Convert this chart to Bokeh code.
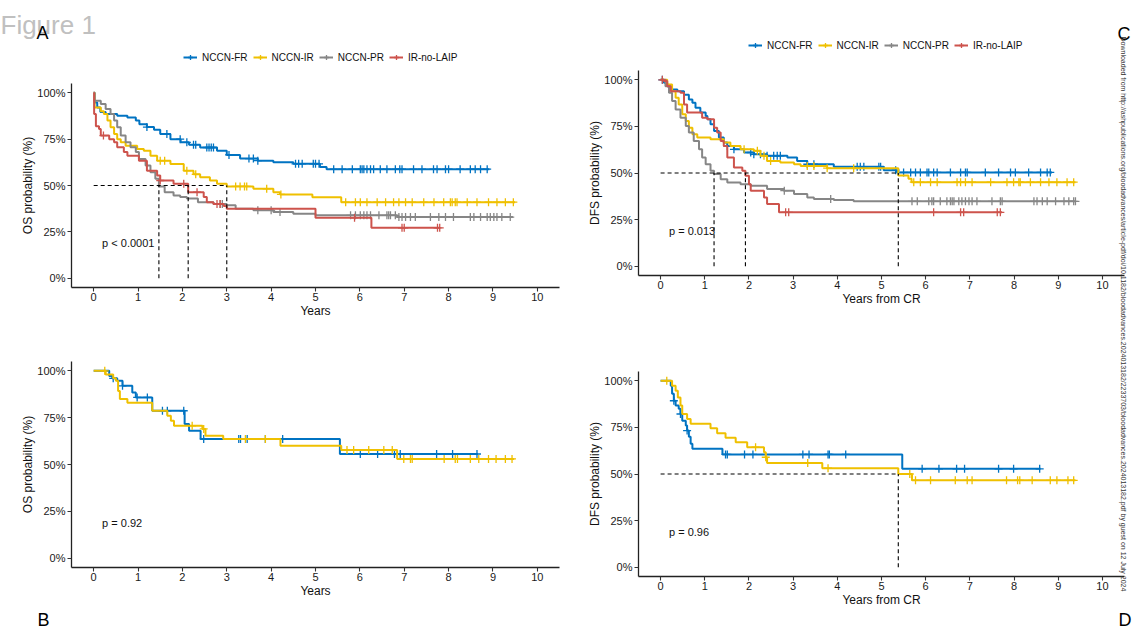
import numpy as np
from bokeh.plotting import figure
from bokeh.models import (Range1d, FixedTicker, Legend, LegendItem, Label,
                          NumeralTickFormatter, LinearAxis)
from bokeh.embed import file_html
from bokeh.resources import INLINE

# ---------------- data ----------------
groups = ["NCCN-FR", "NCCN-IR", "NCCN-PR", "IR-no-LAIP"]
colors = ["#0073C2", "#EFC000", "#868686", "#CD534C"]
x_ticks = [0, 1, 2, 3, 4, 5, 6, 7, 8, 9, 10]
y_ticks = [0, 0.25, 0.5, 0.75, 1]
y_tick_labels = ["0%", "25%", "50%", "75%", "100%"]

# Panel A: OS, all groups
a_fr_time = [0, 0.02, 0.08, 0.15, 0.27, 0.53, 0.76, 0.95, 1.03, 1.2, 1.36, 1.5, 1.73, 1.96, 2.15, 2.4, 2.78, 3.0, 3.3, 3.7, 4.05, 4.5, 5.1, 5.25]
a_fr_surv = [1.0, 0.948, 0.92, 0.896, 0.885, 0.876, 0.867, 0.85, 0.83, 0.815, 0.8, 0.778, 0.75, 0.733, 0.72, 0.705, 0.687, 0.665, 0.645, 0.634, 0.625, 0.617, 0.6, 0.588]
a_fr_end = 8.92
a_fr_cens = [1.2, 1.65, 1.95, 2.1, 2.25, 2.3, 2.55, 2.6, 2.65, 2.7, 3.05, 3.5, 3.6, 3.7, 4.55, 4.62, 4.7, 4.95, 5.0, 5.08, 5.41, 5.6, 5.83, 6.01, 6.05, 6.09, 6.16, 6.24, 6.31, 6.46, 6.61, 6.8, 6.9, 6.95, 7.21, 7.4, 7.66, 7.74, 7.93, 8.0, 8.26, 8.49, 8.6, 8.72, 8.87]

a_ir_time = [0, 0.02, 0.16, 0.23, 0.31, 0.38, 0.46, 0.53, 0.61, 0.72, 0.98, 1.13, 1.28, 1.43, 1.73, 2.03, 2.25, 2.4, 2.62, 2.78, 3.0, 3.6, 4.05, 4.2, 4.93, 5.58]
a_ir_surv = [1.0, 0.92, 0.9, 0.885, 0.85, 0.814, 0.778, 0.75, 0.733, 0.715, 0.697, 0.688, 0.66, 0.634, 0.616, 0.58, 0.56, 0.545, 0.527, 0.51, 0.495, 0.482, 0.464, 0.452, 0.437, 0.41]
a_ir_end = 9.5
a_ir_cens = [1.5, 1.6, 2.1, 2.3, 3.2, 3.3, 3.4, 3.45, 3.9, 4.22, 5.68, 5.9, 6.01, 6.16, 6.39, 6.58, 6.76, 6.88, 7.03, 7.18, 7.44, 7.67, 7.89, 8.04, 8.08, 8.15, 8.19, 8.42, 8.64, 8.9, 9.09, 9.28, 9.46]

a_pr_time = [0, 0.02, 0.16, 0.27, 0.38, 0.46, 0.53, 0.61, 0.72, 0.83, 0.95, 1.02, 1.17, 1.28, 1.39, 1.47, 1.6, 1.8, 1.95, 2.1, 2.35, 2.7, 3.0, 3.2, 3.6, 4.05, 4.5, 5.0, 6.84]
a_pr_surv = [1.0, 0.957, 0.94, 0.912, 0.885, 0.85, 0.814, 0.769, 0.733, 0.706, 0.68, 0.643, 0.608, 0.572, 0.536, 0.495, 0.464, 0.446, 0.4375, 0.43, 0.41, 0.4, 0.393, 0.375, 0.366, 0.357, 0.348, 0.339, 0.33]
a_pr_end = 9.45
a_pr_cens = [2.85, 2.9, 3.7, 4.0, 4.2, 5.79, 5.9, 6.01, 6.09, 6.16, 6.24, 6.43, 6.61, 6.65, 6.69, 6.8, 6.88, 6.95, 7.03, 7.14, 7.25, 7.59, 7.78, 7.93, 8.11, 8.49, 8.57, 8.72, 8.87, 8.94, 9.02, 9.09, 9.2, 9.39]

a_laip_time = [0, 0.01, 0.05, 0.12, 0.16, 0.35, 0.46, 0.53, 0.68, 0.76, 1.02, 1.2, 1.43, 1.5, 1.8, 2.13, 2.48, 2.55, 2.7, 2.93, 3.0, 5.0, 6.26]
a_laip_surv = [1.0, 0.885, 0.82, 0.805, 0.769, 0.75, 0.733, 0.706, 0.68, 0.66, 0.634, 0.58, 0.554, 0.527, 0.51, 0.464, 0.4375, 0.41, 0.4, 0.39, 0.375, 0.326, 0.272]
a_laip_end = 7.8
a_laip_cens = [0.22, 1.5, 2.03, 2.33, 2.78, 2.85, 5.88, 6.95, 7.0, 7.75, 7.8]

# Panel C: DFS, all groups
c_fr_time = [0, 0.075, 0.15, 0.23, 0.38, 0.53, 0.64, 0.72, 0.79, 0.9, 1.02, 1.06, 1.13, 1.21, 1.32, 1.43, 1.51, 1.66, 1.89, 2.11, 2.41, 2.87, 3.09, 3.32, 3.92, 5.05, 5.35]
c_fr_surv = [1.0, 0.984, 0.966, 0.948, 0.939, 0.92, 0.895, 0.877, 0.85, 0.824, 0.806, 0.788, 0.761, 0.725, 0.69, 0.663, 0.645, 0.627, 0.61, 0.6, 0.592, 0.583, 0.565, 0.547, 0.533, 0.515, 0.503]
c_fr_end = 8.86
c_fr_cens = [0.04, 1.51, 1.66, 2.04, 2.11, 2.26, 2.41, 2.56, 2.64, 2.71, 3.32, 3.47, 4.45, 4.52, 4.6, 4.94, 4.98, 5.32, 5.5, 5.66, 5.77, 5.88, 6.03, 6.07, 6.18, 6.26, 6.56, 6.79, 6.9, 6.94, 7.35, 7.65, 7.92, 8.03, 8.33, 8.6, 8.75, 8.82]

c_ir_time = [0, 0.15, 0.26, 0.34, 0.41, 0.49, 0.57, 0.64, 0.72, 0.83, 1.13, 1.43, 1.58, 1.81, 2.11, 2.26, 2.41, 2.71, 3.02, 3.17, 3.77, 5.38, 5.61, 5.68]
c_ir_surv = [1.0, 0.975, 0.939, 0.904, 0.868, 0.815, 0.779, 0.743, 0.708, 0.69, 0.681, 0.663, 0.645, 0.627, 0.619, 0.592, 0.565, 0.556, 0.547, 0.538, 0.526, 0.487, 0.469, 0.451]
c_ir_end = 9.39
c_ir_cens = [1.89, 2.19, 2.34, 2.49, 3.32, 3.47, 3.77, 4.37, 5.73, 5.88, 6.11, 6.26, 6.71, 6.79, 6.9, 7.05, 7.47, 7.84, 7.99, 8.11, 8.14, 8.37, 8.6, 8.79, 8.97, 9.2, 9.35]

c_pr_time = [0, 0.11, 0.19, 0.26, 0.34, 0.45, 0.57, 0.64, 0.75, 0.87, 0.94, 1.02, 1.13, 1.21, 1.36, 1.51, 1.81, 2.04, 2.41, 2.79, 3.02, 3.32, 3.47, 3.92, 4.37]
c_pr_surv = [1.0, 0.966, 0.93, 0.886, 0.841, 0.797, 0.752, 0.717, 0.672, 0.627, 0.583, 0.547, 0.512, 0.494, 0.467, 0.449, 0.44, 0.431, 0.414, 0.405, 0.387, 0.369, 0.36, 0.355, 0.348]
c_pr_end = 9.4
c_pr_cens = [2.8, 3.85, 5.69, 5.81, 6.07, 6.14, 6.18, 6.33, 6.48, 6.56, 6.6, 6.64, 6.75, 6.82, 6.9, 6.98, 7.05, 7.16, 7.5, 7.69, 7.73, 8.45, 8.52, 8.64, 8.75, 8.94, 9.13, 9.24, 9.35, 9.39]

c_laip_time = [0, 0.075, 0.15, 0.23, 0.45, 0.53, 0.6, 0.94, 1.06, 1.21, 1.28, 1.36, 1.43, 1.51, 1.66, 1.85, 1.92, 2.0, 2.04, 2.34, 2.41, 2.68]
c_laip_surv = [1.0, 0.993, 0.966, 0.939, 0.93, 0.868, 0.824, 0.797, 0.788, 0.743, 0.717, 0.672, 0.645, 0.583, 0.529, 0.512, 0.485, 0.44, 0.405, 0.369, 0.333, 0.289]
c_laip_end = 7.73
c_laip_cens = [0.04, 2.83, 2.9, 6.18, 6.79, 6.86, 7.62, 7.69]

# Panel B: OS, two groups
b_fr_time = [0, 0.35, 0.42, 0.53, 0.65, 0.87, 0.95, 1.32, 2.05, 2.15, 2.41, 5.55]
b_fr_surv = [1.0, 0.973, 0.96, 0.947, 0.92, 0.885, 0.858, 0.787, 0.716, 0.68, 0.636, 0.556]
b_fr_end = 8.66
b_fr_cens = [0.44, 0.65, 0.98, 1.21, 1.55, 1.66, 2.03, 2.48, 3.27, 3.31, 3.46, 3.87, 4.26, 6.01, 6.4, 6.78, 6.91, 7.73, 8.09, 8.64]

b_ir_time = [0, 0.27, 0.44, 0.5, 0.55, 0.59, 0.76, 1.32, 1.66, 1.74, 1.81, 2.45, 2.52, 2.92, 4.21, 5.58, 6.84]
b_ir_surv = [1.0, 0.98, 0.96, 0.947, 0.893, 0.85, 0.83, 0.787, 0.76, 0.733, 0.707, 0.69, 0.654, 0.636, 0.6, 0.577, 0.53]
b_ir_end = 9.48
b_ir_cens = [0.25, 2.22, 2.48, 3.42, 3.87, 5.71, 5.86, 6.2, 6.54, 6.73, 6.99, 7.14, 7.18, 7.9, 8.15, 8.2, 8.49, 8.68, 8.9, 9.07, 9.28, 9.43]

# Panel D: DFS, two groups
d_fr_time = [0, 0.23, 0.26, 0.3, 0.34, 0.41, 0.45, 0.49, 0.57, 0.6, 0.64, 0.68, 0.72, 1.4, 5.47]
d_fr_surv = [1.0, 0.973, 0.93, 0.893, 0.867, 0.85, 0.822, 0.786, 0.76, 0.733, 0.7, 0.662, 0.635, 0.605, 0.528]
d_fr_end = 8.6
d_fr_cens = [0.3, 0.45, 0.6, 1.47, 1.51, 1.9, 2.09, 3.22, 3.36, 3.79, 3.82, 4.19, 5.92, 6.3, 6.7, 6.88, 7.65, 7.99, 8.58]

d_ir_time = [0, 0.26, 0.34, 0.39, 0.45, 0.49, 0.6, 0.68, 1.13, 1.28, 1.47, 1.7, 1.96, 2.34, 2.38, 2.41, 3.66, 5.38, 5.69]
d_ir_surv = [1.0, 0.973, 0.947, 0.91, 0.867, 0.822, 0.795, 0.769, 0.746, 0.719, 0.694, 0.671, 0.644, 0.617, 0.59, 0.559, 0.531, 0.5, 0.466]
d_ir_end = 9.39
d_ir_cens = [0.14, 2.15, 2.38, 3.33, 3.79, 5.64, 5.77, 6.11, 6.67, 6.94, 7.05, 7.83, 8.08, 8.13, 8.41, 8.82, 8.97, 9.22, 9.35]

pvals = ["p < 0.0001", "p = 0.013", "p = 0.92", "p = 0.96"]
watermark = ("Downloaded from http://ashpublications.org/bloodadvances/article-pdf/doi/10.1182/"
             "bloodadvances.2024013182/2233703/bloodadvances.2024013182.pdf by guest on 12 July 2024")

FONT = "Liberation Sans"
W, H = 1135, 630

# ---------------- helpers ----------------
def censor_y(t, s, c):
    idx = np.searchsorted(np.asarray(t), np.asarray(c), side="right") - 1
    return list(np.asarray(s)[idx])


def median_time(t, s):
    for ti, si in zip(t, s):
        if si <= 0.5:
            return ti
    return None


p = figure(width=W, height=H, x_range=Range1d(0, W), y_range=Range1d(0, H),
           output_backend="svg", toolbar_location=None, tools="", min_border=0,
           x_axis_location=None, y_axis_location=None)
p.outline_line_color = None
p.background_fill_color = "white"
p.border_fill_color = "white"
for g in p.grid:
    g.visible = False


def add_text(rx, ry, text, size, color="black", align="left", baseline="alphabetic", angle=0.0):
    p.add_layout(Label(x=rx, y=H - ry, text=text, text_font=FONT, text_font_size=size,
                       text_color=color, text_align=align, text_baseline=baseline, angle=angle))


def style_axis(ax):
    ax.axis_line_color = "#222222"
    ax.axis_line_width = 1.3
    ax.major_tick_line_color = "#333333"
    ax.major_tick_line_width = 1.1
    ax.major_tick_out = 4
    ax.major_tick_in = 0
    ax.minor_tick_line_color = None
    ax.major_label_text_font = FONT
    ax.major_label_text_font_size = "11px"
    ax.major_label_text_color = "#1a1a1a"
    ax.axis_label_text_font = FONT
    ax.axis_label_text_font_size = "12px"
    ax.axis_label_text_font_style = "normal"
    ax.axis_label_text_color = "#111111"


def panel(name, frame, curves, xlabel, ylabel, pval, legend_pos=None):
    # frame = (left, top, right, bottom) in canvas pixels, y measured from top
    fx0, fy0, fx1, fy1 = frame
    xs = (fx1 - fx0) / 11.0
    x0 = -0.5 - fx0 / xs
    ys = (fy1 - fy0) / 1.1
    y0 = -0.05 - (H - fy1) / ys
    p.extra_x_ranges[name] = Range1d(x0, x0 + W / xs)
    p.extra_y_ranges[name] = Range1d(y0, y0 + H / ys)

    xa = LinearAxis(x_range_name=name, y_range_name=name, fixed_location=-0.05,
                    bounds=(-0.5, 10.5), ticker=FixedTicker(ticks=x_ticks), axis_label=xlabel)
    ya = LinearAxis(x_range_name=name, y_range_name=name, fixed_location=-0.5,
                    bounds=(-0.05, 1.05), ticker=FixedTicker(ticks=y_ticks), axis_label=ylabel)
    style_axis(xa)
    style_axis(ya)
    ya.formatter = NumeralTickFormatter(format="0%")
    ya.major_label_overrides = {v: l for v, l in zip(y_ticks, y_tick_labels)}
    xa.major_label_standoff = 1
    xa.axis_label_standoff = 0
    ya.major_label_standoff = 2
    ya.axis_label_standoff = -1
    p.add_layout(xa, "below")
    p.add_layout(ya, "left")

    items, meds = [], []
    for gname, color, t, s, end, cens in curves:
        sx = list(t) + [end]
        sy = list(s) + [s[-1]]
        ln = p.step(x=sx, y=sy, mode="after", line_color=color, line_width=2,
                    x_range_name=name, y_range_name=name)
        sc = p.scatter(x=cens, y=censor_y(t, s, cens), marker="cross", size=8,
                       line_color=color, line_width=1.3, x_range_name=name, y_range_name=name)
        items.append(LegendItem(label=gname, renderers=[ln, sc]))
        m = median_time(t, s)
        if m is not None:
            meds.append(m)

    if meds:
        p.segment(x0=[0], y0=[0.5], x1=[max(meds)], y1=[0.5], line_color="black",
                  line_width=1.1, line_dash="4 3", x_range_name=name, y_range_name=name)
        p.segment(x0=meds, y0=[0] * len(meds), x1=meds, y1=[0.5] * len(meds),
                  line_color="black", line_width=1.1, line_dash="4 3",
                  x_range_name=name, y_range_name=name)

    p.add_layout(Label(x=0.19, y=0.19, x_range_name=name, y_range_name=name, text=pval,
                       text_font=FONT, text_font_size="11px", text_color="#111111",
                       text_align="left", text_baseline="middle"))

    if legend_pos is not None:
        lx, ly_bottom = legend_pos
        lg = Legend(items=items, orientation="horizontal", location=(lx, H - ly_bottom),
                    padding=0, margin=0, spacing=5, glyph_width=14, glyph_height=12,
                    label_height=12, label_standoff=5, label_text_font=FONT,
                    label_text_font_size="10px", label_text_color="#111111",
                    background_fill_alpha=0, border_line_alpha=0)
        p.add_layout(lg, "center")


curves_a = [
    (groups[0], colors[0], a_fr_time, a_fr_surv, a_fr_end, a_fr_cens),
    (groups[1], colors[1], a_ir_time, a_ir_surv, a_ir_end, a_ir_cens),
    (groups[2], colors[2], a_pr_time, a_pr_surv, a_pr_end, a_pr_cens),
    (groups[3], colors[3], a_laip_time, a_laip_surv, a_laip_end, a_laip_cens),
]
curves_c = [
    (groups[0], colors[0], c_fr_time, c_fr_surv, c_fr_end, c_fr_cens),
    (groups[1], colors[1], c_ir_time, c_ir_surv, c_ir_end, c_ir_cens),
    (groups[2], colors[2], c_pr_time, c_pr_surv, c_pr_end, c_pr_cens),
    (groups[3], colors[3], c_laip_time, c_laip_surv, c_laip_end, c_laip_cens),
]
curves_b = [
    (groups[0], colors[0], b_fr_time, b_fr_surv, b_fr_end, b_fr_cens),
    (groups[1], colors[1], b_ir_time, b_ir_surv, b_ir_end, b_ir_cens),
]
curves_d = [
    (groups[0], colors[0], d_fr_time, d_fr_surv, d_fr_end, d_fr_cens),
    (groups[1], colors[1], d_ir_time, d_ir_surv, d_ir_end, d_ir_cens),
]

panel("A", (71, 83, 559, 287), curves_a, "Years", "OS probability (%)", pvals[0], legend_pos=(183, 63))
panel("C", (638, 70, 1124, 275), curves_c, "Years from CR", "DFS probability (%)", pvals[1], legend_pos=(748, 51))
panel("B", (71, 361, 559, 567), curves_b, "Years", "OS probability (%)", pvals[2])
panel("D", (638, 371, 1124, 576), curves_d, "Years from CR", "DFS probability (%)", pvals[3])

# figure decorations
add_text(0, 24, "Figure 1", "26px", color="#c0c0c0")
add_text(36, 32, "A", "18px")
add_text(37, 619, "B", "18px")
add_text(1117, 33, "C", "18px")
add_text(1118, 619, "D", "18px")
add_text(1123, 36, watermark, "7px", color="#333333", baseline="middle", angle=-np.pi / 2)

with open("out.html", "w") as f:
    f.write(file_html(p, INLINE))
